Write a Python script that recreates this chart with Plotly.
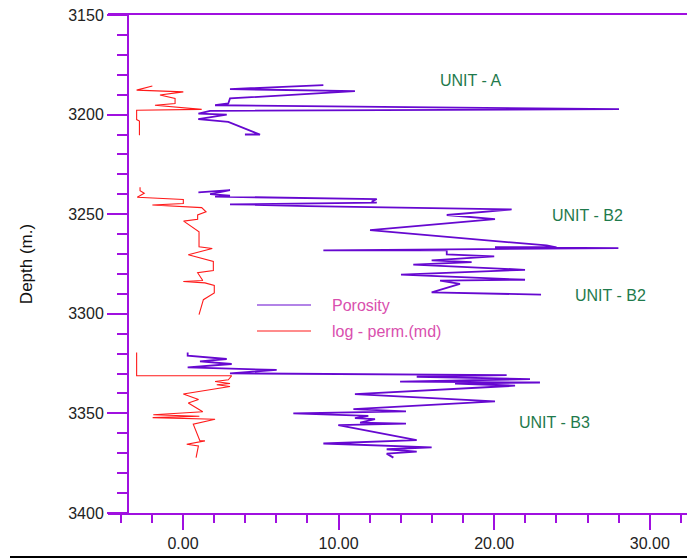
import plotly.graph_objects as go

# ---------------- data ----------------
# Porosity (%) vs depth (m), three logged intervals
por_A_depth = [3185.2, 3187.2, 3188.2, 3191.9, 3194.4, 3195.3, 3197.3, 3198.1, 3199.5, 3200.0, 3202.3, 3203.7, 3210.0, 3210.0]
por_A_value = [9.02, 3.02, 11.05, 3.02, 2.91, 2.06, 28.02, 1.74, 0.99, 2.81, 0.98, 2.91, 4.95, 3.98]

por_B2_depth = [3239.0, 3237.9, 3239.9, 3240.7, 3241.2, 3242.4, 3243.7, 3244.2, 3245.1, 3245.9, 3247.6, 3250.4,
                3252.5, 3258.0, 3265.7, 3266.6, 3266.6, 3267.0, 3268.2, 3268.2, 3270.2, 3271.2, 3273.2, 3274.1,
                3275.3, 3277.9, 3280.3, 3282.9, 3283.3, 3285.0, 3289.2, 3290.4]
por_B2_value = [0.99, 3.02, 1.74, 3.02, 2.06, 12.45, 12.13, 12.45, 3.02, 8.01, 21.12, 16.95,
                20.05, 12.02, 23.37, 24.0, 20.05, 27.98, 9.02, 16.95, 16.95, 20.0, 15.98, 18.55,
                14.8, 21.98, 14.01, 21.98, 16.52, 17.8, 15.98, 23.01]

por_B3_depth = [3319.4, 3321.0, 3322.7, 3323.9, 3325.2, 3326.9, 3328.2, 3329.9, 3330.8, 3331.6, 3332.8, 3334.0,
                3334.5, 3335.0, 3336.1, 3340.3, 3344.0, 3347.9, 3349.0, 3350.0, 3351.2, 3352.4, 3352.9, 3354.6,
                3355.1, 3355.9, 3363.4, 3365.1, 3367.1, 3368.0, 3369.2, 3370.2, 3372.2]
por_B3_value = [0.3, 0.3, 2.81, 1.09, 3.13, 0.3, 6.02, 3.02, 20.8, 15.02, 22.3, 13.95,
                22.94, 17.48, 21.34, 11.05, 20.05, 10.95, 14.33, 7.09, 11.91, 11.05, 12.34, 11.38,
                14.33, 9.98, 15.02, 9.02, 15.98, 13.09, 15.02, 13.09, 13.52]

# log permeability (md) vs depth (m)
perm_A_depth = [3185.6, 3187.7, 3188.6, 3190.2, 3191.9, 3194.4, 3195.3, 3197.4, 3197.8, 3202.5, 3203.2, 3210.4]
perm_A_value = [-1.97, -2.98, 0.02, -1.48, -0.51, -0.51, -1.8, 1.2, -2.98, -2.98, -2.8, -2.8]

perm_B2_depth = [3236.5, 3238.2, 3239.5, 3241.5, 3242.6, 3244.6, 3245.4, 3246.7, 3248.8, 3250.4, 3252.6, 3253.5,
                 3258.8, 3266.4, 3267.2, 3268.5, 3270.4, 3273.7, 3278.3, 3279.4, 3283.3, 3283.8, 3284.5, 3285.8,
                 3289.5, 3292.9, 3300.4]
perm_B2_value = [-2.76, -2.76, -2.49, -2.94, 0.02, 0.02, -1.97, 1.2, 1.48, 0.94, 0.94, 0.04,
                 1.03, 1.03, 1.88, 1.2, 0.34, 1.95, 1.95, 0.94, 1.27, 0.02, 1.41, 2.01,
                 2.01, 1.31, 1.03]

perm_B3_depth = [3319.4, 3331.1, 3331.1, 3333.1, 3334.0, 3335.0, 3335.6, 3336.5, 3340.3, 3343.0, 3344.8, 3349.2,
                 3350.7, 3351.4, 3352.1, 3352.9, 3355.4, 3363.8, 3363.8, 3365.5, 3366.3, 3372.2]
perm_B3_value = [-2.98, -2.98, 3.13, 2.91, 2.06, 3.02, 2.17, 3.02, 0.02, 1.0, 0.34, 1.27,
                 -1.91, 1.05, -1.95, 2.06, 0.66, 1.09, 1.41, 0.24, 0.99, 0.84]

unit_labels = ["UNIT - A", "UNIT - B2", "UNIT - B2", "UNIT - B3"]
unit_label_x = [18.5, 26.0, 27.45, 23.85]
unit_label_depth = [3183.1, 3250.4, 3290.6, 3354.8]

legend_names = ["Porosity", "log - perm.(md)"]

# ---------------- styles ----------------
AXIS = "#A010E0"
POR = "#6608D0"
PERM = "#FF1A1A"
GREEN = "#1F7A4C"
PINK = "#D94FAE"
FONT = "Arial, Liberation Sans, sans-serif"

def join(*parts):
    out = []
    for i, p in enumerate(parts):
        if i:
            out.append(None)
        out.extend(p)
    return out

fig = go.Figure()
fig.add_trace(go.Scatter(
    x=join(por_A_value, por_B2_value, por_B3_value),
    y=join(por_A_depth, por_B2_depth, por_B3_depth),
    mode="lines", line=dict(color=POR, width=1.8), name=legend_names[0],
    connectgaps=False, showlegend=False))
fig.add_trace(go.Scatter(
    x=join(perm_A_value, perm_B2_value, perm_B3_value),
    y=join(perm_A_depth, perm_B2_depth, perm_B3_depth),
    mode="lines", line=dict(color=PERM, width=1.1), name=legend_names[1],
    connectgaps=False, showlegend=False))

for t, x, y in zip(unit_labels, unit_label_x, unit_label_depth):
    fig.add_annotation(x=x, y=y, xref="x", yref="y", text=t, showarrow=False,
                       font=dict(family=FONT, size=16, color=GREEN))

# manual legend (paper coordinates)
W, H = 687, 560
L, R, T, B = 108, 0, 15, 47
pw, ph = W - L - R, H - T - B

def px(xp):
    return (xp - L) / pw

def py(yp):
    return (H - B - yp) / ph

for name, col, yy in [(legend_names[0], POR, 305), (legend_names[1], PERM, 331)]:
    fig.add_shape(type="line", xref="paper", yref="paper", x0=px(257), x1=px(311), y0=py(yy), y1=py(yy),
                  line=dict(color=col, width=1.2))
    fig.add_annotation(xref="paper", yref="paper", x=px(330), y=py(yy), text=name, showarrow=False,
                       xanchor="left", yanchor="middle", font=dict(family=FONT, size=16, color=PINK))

# bottom black rule
fig.add_shape(type="line", xref="paper", yref="paper", x0=px(10), x1=px(687), y0=py(557), y1=py(557),
              line=dict(color="black", width=2))

fig.update_layout(
    width=W, height=H,
    margin=dict(l=L, r=R, t=T, b=B),
    paper_bgcolor="white", plot_bgcolor="white",
    font=dict(family=FONT, size=16, color="#222222"),
    xaxis=dict(range=[-4.82, 32.39], showgrid=False, zeroline=False,
               showline=True, linecolor=AXIS, linewidth=2, mirror=True,
               ticks="outside", tickcolor=AXIS, tickwidth=2, ticklen=15,
               tick0=0, dtick=10, tickformat=".2f",
               minor=dict(ticks="outside", dtick=2, tick0=0, ticklen=8, tickcolor=AXIS, tickwidth=2),
               tickfont=dict(family=FONT, size=16, color="#222222")),
    yaxis=dict(range=[3400, 3150], showgrid=False, zeroline=False,
               anchor="free", position=px(128),
               showline=True, linecolor=AXIS, linewidth=2,
               ticks="outside", tickcolor=AXIS, tickwidth=2, ticklen=20,
               tick0=3150, dtick=50,
               minor=dict(ticks="outside", dtick=10, tick0=3150, ticklen=10, tickcolor=AXIS, tickwidth=2),
               tickfont=dict(family=FONT, size=16, color="#222222"),
               title=dict(text="Depth (m.)", font=dict(family=FONT, size=17, color="#111111"), standoff=30)),
)

fig.write_html("out.html", config={"displayModeBar": False},
               post_script="document.body.style.margin='0';document.body.style.overflow='hidden';")
